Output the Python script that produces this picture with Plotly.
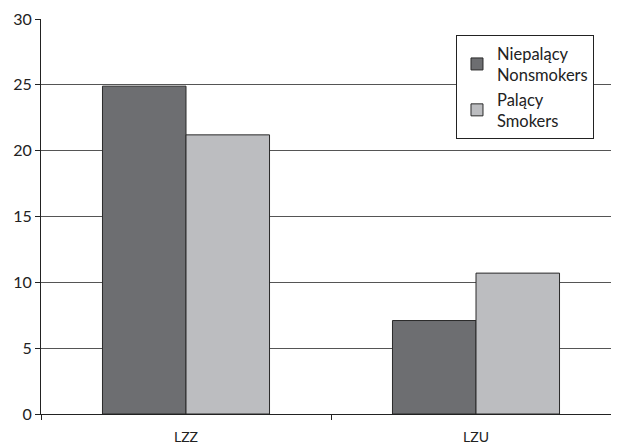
import plotly.graph_objects as go

categories = ["LZZ", "LZU"]
nonsmokers = [24.9, 7.1]
smokers = [21.2, 10.7]
series_names = ["Niepalący<br>Nonsmokers", "Palący<br>Smokers"]
y_ticks = [0, 5, 10, 15, 20, 25, 30]

FONT = "Lato, Open Sans, sans-serif"

fig = go.Figure()
fig.add_trace(go.Bar(x=categories, y=nonsmokers, name=series_names[0],
                     marker=dict(color="#6d6e71", line=dict(color="#2a2a2a", width=1))))
fig.add_trace(go.Bar(x=categories, y=smokers, name=series_names[1],
                     marker=dict(color="#bcbdc0", line=dict(color="#2a2a2a", width=1))))

fig.update_layout(
    width=619, height=446,
    margin=dict(l=33, r=6, t=11, b=40, autoexpand=False),
    paper_bgcolor="white", plot_bgcolor="white",
    barmode="group", bargap=0.424, bargroupgap=0,
    font=dict(family=FONT, color="#222", size=16),
    legend=dict(x=0.7155, y=0.9595, xanchor="left", yanchor="top",
                bgcolor="white", bordercolor="#222", borderwidth=1,
                font=dict(size=16.5, family=FONT), tracegroupgap=14,
                itemwidth=30),
    showlegend=True,
)
fig.update_yaxes(range=[0, 30], tickvals=y_ticks, showgrid=True, gridcolor="#555", gridwidth=1,
                 showline=True, linecolor="#222", linewidth=1, ticks="outside", ticklen=5,
                 tickcolor="#222", zeroline=False, tickfont=dict(size=16, family=FONT),
                 automargin=False)
fig.update_xaxes(type="category", range=[-0.5, 1.5], tickson="boundaries", ticks="outside",
                 ticklen=5, tickcolor="#222", showline=True, linecolor="#222", linewidth=1,
                 showgrid=False, tickfont=dict(size=14, family=FONT), automargin=False,
                 ticklabelstandoff=10)

fig.write_html("out.html")
